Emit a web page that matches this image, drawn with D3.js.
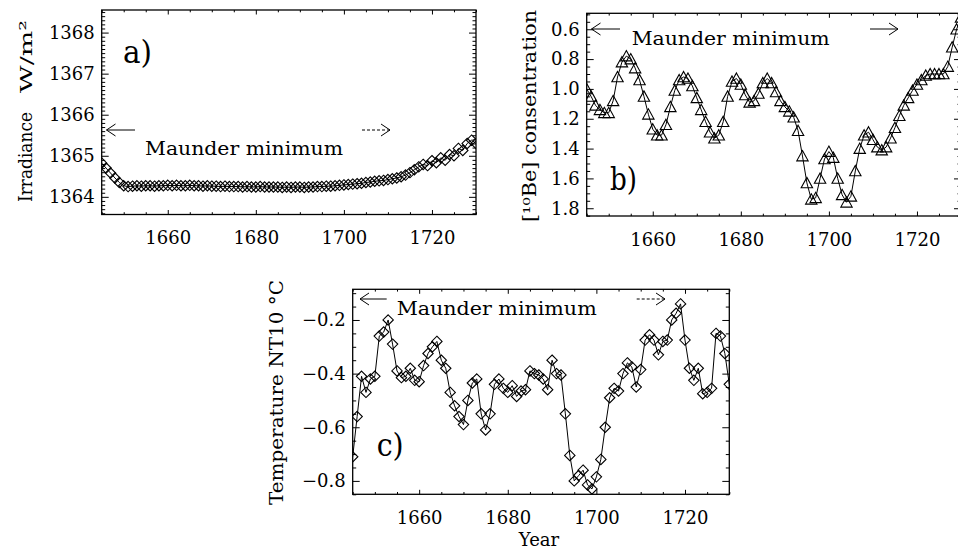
<!DOCTYPE html>
<html><head><meta charset="utf-8">
<script src="https://cdn.jsdelivr.net/npm/d3@7"></script>
<style>
html,body{margin:0;padding:0;background:#fff;overflow:hidden}
text{font-family:"DejaVu Serif",serif;fill:#000}
</style>
</head><body>
<svg id="chart" width="958" height="551"></svg>
<script>
// ---------------- data ----------------
const years = [
 1645,1646,1647,1648,1649,1650,1651,1652,1653,1654,
 1655,1656,1657,1658,1659,1660,1661,1662,1663,1664,
 1665,1666,1667,1668,1669,1670,1671,1672,1673,1674,
 1675,1676,1677,1678,1679,1680,1681,1682,1683,1684,
 1685,1686,1687,1688,1689,1690,1691,1692,1693,1694,
 1695,1696,1697,1698,1699,1700,1701,1702,1703,1704,
 1705,1706,1707,1708,1709,1710,1711,1712,1713,1714,
 1715,1716,1717,1718,1719,1720,1721,1722,1723,1724,
 1725,1726,1727,1728,1729,1730];

const irradiance = [
 1364.82,1364.70,1364.58,1364.46,1364.35,1364.27,1364.25,1364.26,1364.27,1364.26,
 1364.27,1364.27,1364.26,1364.27,1364.27,1364.28,1364.27,1364.28,1364.27,1364.27,
 1364.28,1364.27,1364.27,1364.26,1364.27,1364.26,1364.26,1364.25,1364.26,1364.25,
 1364.25,1364.25,1364.24,1364.25,1364.24,1364.24,1364.25,1364.24,1364.24,1364.24,
 1364.24,1364.23,1364.24,1364.23,1364.24,1364.24,1364.23,1364.24,1364.24,1364.25,
 1364.25,1364.26,1364.26,1364.27,1364.28,1364.29,1364.30,1364.31,1364.32,1364.33,
 1364.35,1364.36,1364.38,1364.39,1364.40,1364.42,1364.44,1364.46,1364.49,1364.53,
 1364.59,1364.66,1364.73,1364.79,1364.76,1364.88,1364.83,1364.95,1364.89,1365.03,
 1365.00,1365.18,1365.13,1365.30,1365.38,1365.30];

const beryllium = [
 1.00,1.05,1.11,1.14,1.16,1.16,1.08,0.92,0.82,0.78,
 0.80,0.86,0.94,1.05,1.17,1.27,1.31,1.31,1.24,1.12,
 1.01,0.94,0.92,0.93,0.98,1.06,1.14,1.22,1.29,1.33,
 1.31,1.22,1.05,0.95,0.93,0.97,1.04,1.09,1.08,1.03,
 0.96,0.93,0.96,1.02,1.08,1.12,1.15,1.19,1.28,1.45,
 1.63,1.74,1.73,1.60,1.47,1.42,1.46,1.60,1.71,1.76,
 1.72,1.55,1.40,1.31,1.29,1.34,1.39,1.41,1.39,1.33,
 1.26,1.18,1.11,1.06,1.01,0.97,0.94,0.91,0.90,0.90,
 0.90,0.90,0.85,0.72,0.60,0.52];

const temperature = [
 -0.71,-0.56,-0.41,-0.47,-0.42,-0.41,-0.26,-0.245,-0.20,-0.29,
 -0.39,-0.415,-0.41,-0.38,-0.425,-0.43,-0.37,-0.325,-0.30,-0.28,
 -0.35,-0.38,-0.47,-0.52,-0.56,-0.59,-0.50,-0.435,-0.42,-0.55,
 -0.61,-0.55,-0.44,-0.42,-0.455,-0.47,-0.445,-0.485,-0.465,-0.46,
 -0.39,-0.40,-0.405,-0.42,-0.46,-0.35,-0.40,-0.405,-0.55,-0.705,
 -0.80,-0.78,-0.76,-0.815,-0.83,-0.785,-0.72,-0.60,-0.49,-0.455,
 -0.465,-0.40,-0.36,-0.375,-0.45,-0.385,-0.275,-0.255,-0.275,-0.33,
 -0.28,-0.275,-0.20,-0.175,-0.14,-0.275,-0.38,-0.425,-0.38,-0.475,
 -0.47,-0.455,-0.25,-0.26,-0.325,-0.44];

const xTicks = [1660, 1680, 1700, 1720];
const irrTicks = [1364, 1365, 1366, 1367, 1368];
const beTicks = [0.6, 0.8, 1.0, 1.2, 1.4, 1.6, 1.8];
const tempTicks = [-0.8, -0.6, -0.4, -0.2];

const labels = {
  a: "a)", b: "b)", c: "c)",
  maunder: "Maunder minimum",
  irrA: "Irradiance", irrB: "W/m\u00B2",
  be: "[\u00B9\u2070Be] consentration",
  temp: "Temperature NT10 \u00B0C",
  year: "Year"
};

// ---------------- drawing ----------------
const svg = d3.select("#chart");
const FS = 18;

function steps(lo, hi, step) {
  const out = [];
  for (let i = Math.ceil(lo / step - 1e-9); i <= Math.floor(hi / step + 1e-9); i++) out.push(+(i * step).toFixed(4));
  return out;
}

function arrow(g, x1, x2, y, dir, dashed) {
  g.append("line").attr("x1", x1).attr("x2", x2).attr("y1", y).attr("y2", y)
    .attr("stroke", "#000").attr("stroke-width", 1)
    .attr("stroke-dasharray", dashed ? "3,2" : null);
  const tip = dir < 0 ? x1 : x2;
  const back = dir < 0 ? 9 : -9;
  g.append("path")
    .attr("d", `M${tip + back},${y - 6}L${tip},${y}L${tip + back},${y + 6}`)
    .attr("fill", "none").attr("stroke", "#000").attr("stroke-width", 1);
}

function panel(o) {
  const x = d3.scaleLinear().domain([1645, 1730]).range([o.l, o.r]);
  const y = d3.scaleLinear().domain(o.yDomain).range([o.b, o.t]);
  const g = svg.append("g");
  const id = "clip" + o.key;
  svg.append("clipPath").attr("id", id).append("rect")
    .attr("x", o.l).attr("y", o.t).attr("width", o.r - o.l).attr("height", o.b - o.t);

  const xMinor = steps(1645, 1730, 5).filter(v => !xTicks.includes(v));
  const yMinor = steps(Math.min(...o.yDomain), Math.max(...o.yDomain), o.yMinorStep)
    .filter(v => !o.yTicks.some(t => Math.abs(t - v) < 1e-6));

  const clean = s => { s.select(".domain").remove(); s.selectAll("line").attr("stroke-width", 1); };

  // bottom
  g.append("g").attr("transform", `translate(0,${o.b})`)
    .call(d3.axisBottom(x).tickValues(xTicks).tickSizeInner(-4.5).tickSizeOuter(0).tickPadding(17).tickFormat(d3.format("d")))
    .call(clean).call(s => s.selectAll("text").attr("font-size", FS).attr("font-family", "DejaVu Serif"));
  g.append("g").attr("transform", `translate(0,${o.b})`)
    .call(d3.axisBottom(x).tickValues(xMinor).tickSizeInner(-2.3).tickSizeOuter(0).tickFormat(""))
    .call(clean);
  // top
  g.append("g").attr("transform", `translate(0,${o.t})`)
    .call(d3.axisTop(x).tickValues(xTicks).tickSizeInner(-4.5).tickSizeOuter(0).tickFormat(""))
    .call(clean);
  g.append("g").attr("transform", `translate(0,${o.t})`)
    .call(d3.axisTop(x).tickValues(xMinor).tickSizeInner(-2.3).tickSizeOuter(0).tickFormat(""))
    .call(clean);
  // left
  g.append("g").attr("transform", `translate(${o.l},0)`)
    .call(d3.axisLeft(y).tickValues(o.yTicks).tickSizeInner(-7).tickSizeOuter(0).tickPadding(7).tickFormat(o.fmt))
    .call(clean).call(s => s.selectAll("text").attr("font-size", FS).attr("font-family", "DejaVu Serif"));
  g.append("g").attr("transform", `translate(${o.l},0)`)
    .call(d3.axisLeft(y).tickValues(yMinor).tickSizeInner(-3.5).tickSizeOuter(0).tickFormat(""))
    .call(clean);
  // right
  g.append("g").attr("transform", `translate(${o.r},0)`)
    .call(d3.axisRight(y).tickValues(o.yTicks).tickSizeInner(-7).tickSizeOuter(0).tickFormat(""))
    .call(clean);
  g.append("g").attr("transform", `translate(${o.r},0)`)
    .call(d3.axisRight(y).tickValues(yMinor).tickSizeInner(-3.5).tickSizeOuter(0).tickFormat(""))
    .call(clean);

  // frame
  g.append("rect").attr("x", o.l).attr("y", o.t).attr("width", o.r - o.l).attr("height", o.b - o.t)
    .attr("fill", "none").attr("stroke", "#000").attr("stroke-width", 1.3);

  const pts = years.map((yr, i) => [x(yr), y(o.values[i])]);
  const dg = g.append("g").attr("clip-path", `url(#${id})`);
  dg.append("path").attr("d", d3.line()(pts)).attr("fill", "none").attr("stroke", "#000").attr("stroke-width", 1);
  const shape = o.marker === "tri" ? "M0,-5.5L5.7,4.8L-5.7,4.8Z" : "M0,-5.2L5.2,0L0,5.2L-5.2,0Z";
  dg.selectAll("path.m").data(pts).join("path").attr("class", "m")
    .attr("transform", d => `translate(${d[0]},${d[1]})`)
    .attr("d", shape).attr("fill", "none").attr("stroke", "#000").attr("stroke-width", 1.1);

  // annotations
  arrow(g, o.arrL[0], o.arrL[1], o.arrY, -1, false);
  arrow(g, o.arrR[0], o.arrR[1], o.arrY, 1, o.dashR);
  g.append("text").attr("x", o.mx).attr("y", o.my).attr("font-size", FS)
    .attr("textLength", o.mw).attr("lengthAdjust", "spacingAndGlyphs").text(labels.maunder);
  g.append("text").attr("x", o.lx).attr("y", o.ly).attr("font-size", 32)
    .attr("textLength", o.lw).attr("lengthAdjust", "spacingAndGlyphs").text(labels[o.key]);
  return g;
}

panel({
  key: "a", l: 101.7, r: 476, t: 10, b: 214.5,
  yDomain: [1363.57, 1368.55], yTicks: irrTicks, yMinorStep: 0.1, fmt: d3.format("d"),
  values: irradiance, marker: "dia",
  arrL: [106.5, 135], arrR: [362, 390], arrY: 130, dashR: true,
  mx: 145, my: 155, mw: 198,
  lx: 123, ly: 63, lw: 29
});

panel({
  key: "b", l: 586.7, r: 961, t: 13.3, b: 216,
  yDomain: [1.852, 0.493], yTicks: beTicks, yMinorStep: 0.05, fmt: d3.format(".1f"),
  values: beryllium, marker: "tri",
  arrL: [591.5, 620], arrR: [870, 898], arrY: 29, dashR: false,
  mx: 631.7, my: 44.5, mw: 198,
  lx: 610, ly: 190, lw: 27
});

panel({
  key: "c", l: 352.7, r: 729.3, t: 289.3, b: 494.3,
  yDomain: [-0.85, -0.0856], yTicks: tempTicks, yMinorStep: 0.05, fmt: d3.format(".1f"),
  values: temperature, marker: "dia",
  arrL: [360, 386.7], arrR: [636.7, 665], arrY: 299, dashR: true,
  mx: 396.7, my: 315, mw: 200,
  lx: 376.7, ly: 456, lw: 27
});

// axis titles
function vtext(x, y, txt, len, fs) {
  svg.append("text").attr("transform", `translate(${x},${y}) rotate(-90)`)
    .attr("text-anchor", "middle").attr("font-size", fs || FS)
    .attr("textLength", len).attr("lengthAdjust", "spacingAndGlyphs").text(txt);
}
vtext(31.5, 157, labels.irrA, 90);
vtext(31.5, 56.5, labels.irrB, 73, 17);
vtext(536, 116, labels.be, 212);
vtext(283, 392.5, labels.temp, 225);

svg.append("text").attr("x", 539).attr("y", 545.5).attr("text-anchor", "middle")
  .attr("font-size", FS).text(labels.year);
</script>
</body></html>
